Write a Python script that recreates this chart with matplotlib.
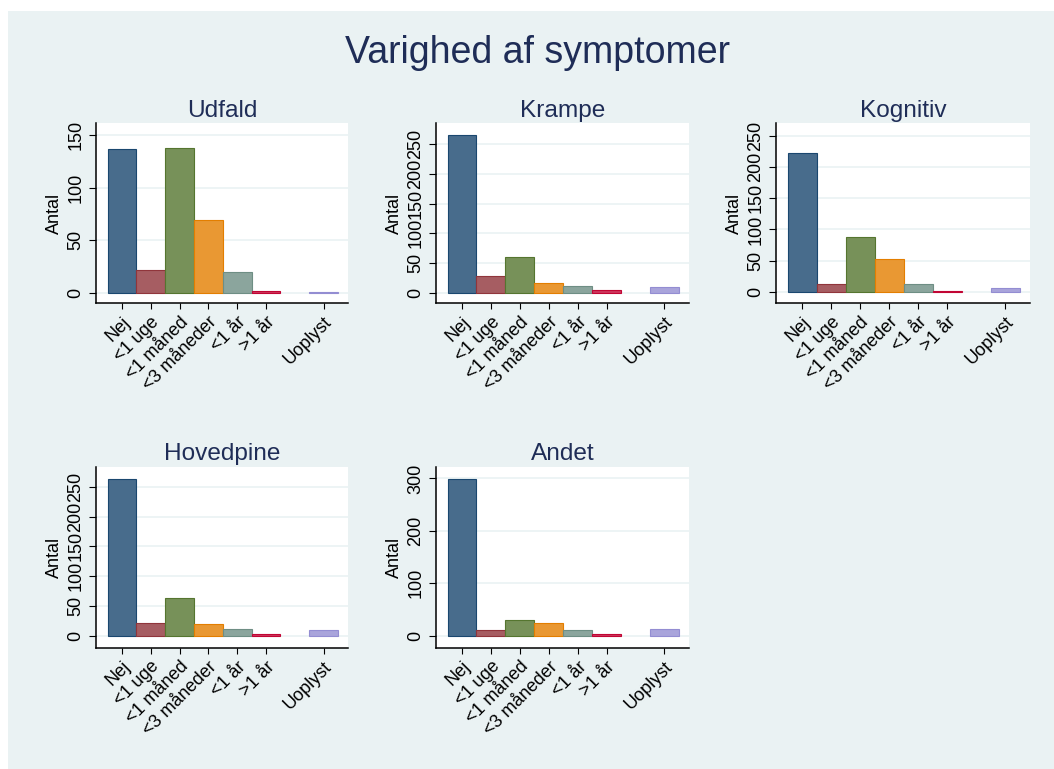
import matplotlib
matplotlib.use("Agg")
import matplotlib.pyplot as plt
from matplotlib.patches import Rectangle

plt.rcParams['font.family'] = ['Liberation Sans', 'DejaVu Sans']

# ---- data ----
categories = ["Nej", "<1 uge", "<1 måned", "<3 måneder", "<1 år", ">1 år", "Uoplyst"]
udfald    = [137, 22, 138, 69, 20, 2, 1]
krampe    = [265, 28, 60, 17, 11, 4, 9]
kognitiv  = [222, 13, 88, 53, 13, 2, 7]
hovedpine = [263, 21, 64, 20, 11, 3, 9]
andet     = [299, 10, 29, 24, 10, 3, 13]
panel_titles = ["Udfald", "Krampe", "Kognitiv", "Hovedpine", "Andet"]
main_title = "Varighed af symptomer"
y_label = "Antal"

# ---- styling ----
W, H = 1054, 769
edge_cols = ["#1A476F", "#90353B", "#55752F", "#E37E00", "#6E8E84", "#C10534", "#938DD2"]

def lighten(hexc, inten=0.8):
    r, g, b = [int(hexc[i:i + 2], 16) for i in (1, 3, 5)]
    return tuple((255 - inten * (255 - c)) / 255 for c in (r, g, b))

fill_cols = [lighten(c) for c in edge_cols]
bg = "#EAF2F3"
title_col = "#1F2D57"

fig = plt.figure(figsize=(W / 100, H / 100), dpi=100, facecolor="white")
fig.patches.append(Rectangle((8 / W, 0), 1 - 8 / W, 1 - 11 / H, transform=fig.transFigure,
                             facecolor=bg, edgecolor="none", zorder=-10))

fig.text(537.5 / W, 1 - 62.7 / H, main_title, ha="center", va="baseline",
         fontsize=27, color=title_col)

# x positions: leave one empty slot before the last category
xpos = [i + 1 for i in range(len(categories) - 1)] + [len(categories) + 1]

panels = [
    (udfald,    (96, 123.3, 348, 303.3),  (-10.1, 161.1), [0, 50, 100, 150]),
    (krampe,    (436, 123.3, 689, 303.3), (-17.9, 285.5), [0, 50, 100, 150, 200, 250]),
    (kognitiv,  (776, 123.3, 1030, 303.3), (-18.0, 269.6), [0, 50, 100, 150, 200, 250]),
    (hovedpine, (96, 466.7, 348, 647.7),  (-20.1, 283.6), [0, 50, 100, 150, 200, 250]),
    (andet,     (436, 466.7, 689, 647.7), (-23.0, 322.3), [0, 100, 200, 300]),
]

for (vals, (x0, y0, x1, y1), ylim, yt), ttl in zip(panels, panel_titles):
    ax = fig.add_axes([x0 / W, 1 - y1 / H, (x1 - x0) / W, (y1 - y0) / H])
    ax.set_facecolor("white")
    ax.bar(xpos, vals, width=1.0, color=fill_cols, edgecolor=edge_cols,
           linewidth=0.8, zorder=3)
    ax.set_xlim(0.1, 8.85)
    ax.set_ylim(*ylim)
    ax.set_yticks(yt)
    ax.set_yticklabels([str(v) for v in yt], rotation=90, va="center", fontsize=13)
    ax.set_xticks(xpos)
    ax.set_xticklabels(categories, rotation=45, ha="right", rotation_mode="anchor",
                       fontsize=13)
    ax.grid(axis="y", color=bg, linewidth=1.2, zorder=0)
    ax.set_axisbelow(True)
    for s in ("top", "right"):
        ax.spines[s].set_visible(False)
    for s in ("left", "bottom"):
        ax.spines[s].set_color("black")
        ax.spines[s].set_linewidth(1.1)
    ax.tick_params(axis="y", length=5, width=0.8, pad=3.5, colors="black")
    ax.tick_params(axis="x", length=4.5, width=0.8, pad=3, colors="black")
    ax.set_ylabel(y_label, fontsize=13, labelpad=3)
    ax.set_title(ttl, fontsize=17.6, color=title_col, pad=4.8)

fig.savefig("out.png", dpi=100, facecolor="white")
